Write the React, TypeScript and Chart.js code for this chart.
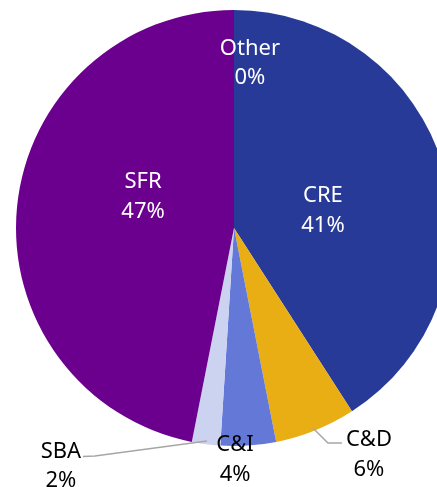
import React, { useEffect, useRef } from "react";
import { Chart, registerables } from "chart.js";
Chart.register(...registerables);

const categories = ["Other", "CRE", "C&D", "C&I", "SBA", "SFR"];
const shares = [0, 40.9, 6.0, 4.1, 2.1, 46.9];
const pctLabels = ["0%", "41%", "6%", "4%", "2%", "47%"];
const colors = ["#8FA0D8", "#283A97", "#E8AE14", "#6478D8", "#CCD3F0", "#6B008F"];
const labelColors = ["#FFFFFF", "#FFFFFF", "#000000", "#000000", "#000000", "#FFFFFF"];

// label anchor (first-line baseline) relative to pie centre, in units of radius
const labelAnchors: [number, number][] = [
  [0.073, -0.794],
  [0.408, -0.119],
  [0.619, 1.0],
  [0.005, 1.023],
  [-0.794, 1.055],
  [-0.417, -0.183],
];
const leaderLines: Record<number, [number, number][]> = {
  2: [[0.362, 0.917], [0.431, 0.986], [0.495, 0.986]],
  4: [[-0.124, 0.977], [-0.638, 1.046], [-0.693, 1.048]],
};

const FONT = "22px 'Noto Sans', sans-serif";

const labelPlugin = {
  id: "sliceLabels",
  afterDraw(chart: any) {
    const meta = chart.getDatasetMeta(0);
    const arc = meta.data[0];
    if (!arc) return;
    const cx = arc.x, cy = arc.y, R = arc.outerRadius;
    const ctx = chart.ctx;
    ctx.save();
    // leader lines
    ctx.strokeStyle = "#A6A6A6";
    ctx.lineWidth = 1.5;
    Object.keys(leaderLines).forEach((k) => {
      const pts = leaderLines[+k];
      ctx.beginPath();
      pts.forEach(([fx, fy], i) => {
        const x = cx + fx * R, y = cy + fy * R;
        if (i === 0) ctx.moveTo(x, y); else ctx.lineTo(x, y);
      });
      ctx.stroke();
    });
    ctx.font = FONT;
    ctx.textAlign = "center";
    ctx.textBaseline = "alphabetic";
    const lh = 29.5;
    categories.forEach((c, i) => {
      const [fx, fy] = labelAnchors[i];
      const x = cx + fx * R, y = cy + fy * R;
      ctx.fillStyle = labelColors[i];
      ctx.fillText(c, x, y);
      ctx.fillText(pctLabels[i], x, y + lh);
    });
    ctx.restore();
  },
};

export default function App() {
  const ref = useRef<HTMLCanvasElement>(null);
  useEffect(() => {
    if (!ref.current) return;
    const chart = new Chart(ref.current, {
      type: "pie",
      data: {
        labels: categories,
        datasets: [
          {
            data: shares,
            backgroundColor: colors,
            borderWidth: 0,
          },
        ],
      },
      options: {
        responsive: false,
        animation: false,
        layout: { padding: { left: 16, right: 16, top: 10, bottom: 41 } },
        plugins: { legend: { display: false }, tooltip: { enabled: false } },
      },
      plugins: [labelPlugin],
    });
    return () => chart.destroy();
  }, []);
  return (
    <div style={{ position: "absolute", left: 0, top: 0, width: 437, height: 487, overflow: "hidden", background: "#fff" }}>
      <canvas ref={ref} width={468} height={487} style={{ display: "block", width: 468, height: 487 }} />
    </div>
  );
}
